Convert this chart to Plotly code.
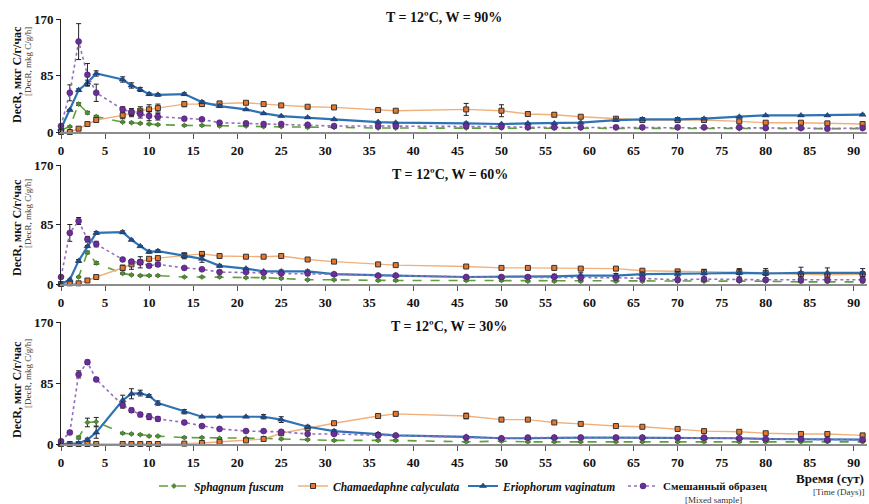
import plotly.graph_objects as go

W, H = 869, 504

days = [0, 1, 2, 3, 4, 7, 8, 9, 10, 11, 14, 16, 18, 21, 23, 25, 28, 31, 36, 38,
        46, 50, 53, 56, 59, 63, 66, 70, 73, 77, 80, 84, 87, 91]

series_names = ["<b><i>Sphagnum fuscum</i></b>", "<b><i>Chamaedaphne calyculata</i></b>",
                "<b><i>Eriophorum vaginatum</i></b>", "<b>Смешанный образец</b>"]
panel_titles = ["T = 12ºC, W = 90%", "T = 12ºC, W = 60%", "T = 12ºC, W = 30%"]
y_ticks = [0, 85, 170]
x_ticks = list(range(0, 95, 5))

# ---- W = 90% ----
sph_90 = [3, 8, 42, 29, 23, 15, 14, 13, 12, 11, 10, 10, 9, 9, 8, 8, 7, 7, 6, 6,
          6, 6, 6, 6, 6, 6, 6, 6, 6, 5, 5, 5, 5, 5]
cha_90 = [0, 0, 5, 12, 18, 25, 29, 32, 34, 36, 42, 42, 43, 44, 42, 40, 38, 37, 33, 32,
          34, 32, 27, 26, 23, 20, 18, 18, 18, 16, 14, 14, 13, 12]
eri_90 = [5, 33, 63, 74, 88, 79, 70, 64, 57, 56, 57, 45, 39, 34, 28, 24, 22, 19, 15, 14,
          13, 12, 13, 13, 14, 18, 19, 19, 20, 23, 25, 25, 25, 26]
mix_90 = [9, 59, 136, 86, 59, 34, 30, 27, 24, 23, 20, 19, 14, 13, 12, 12, 11, 9, 9, 9,
          9, 8, 7, 7, 7, 7, 7, 7, 7, 7, 6, 6, 5, 6]
sph_90_err = [0, 1, 2, 2, 2, 1, 1, 1, 1, 1, 1, 1, 1, 1, 1, 1, 1, 1, 1, 1,
              1, 1, 1, 1, 1, 1, 1, 1, 1, 1, 1, 1, 1, 1]
cha_90_err = [0, 0, 1, 1, 3, 5, 6, 6, 7, 6, 4, 3, 2, 1, 1, 1, 1, 1, 1, 1,
              9, 9, 3, 3, 2, 1, 1, 1, 1, 1, 1, 1, 1, 1]
eri_90_err = [0, 1, 2, 4, 4, 4, 4, 3, 2, 2, 2, 2, 2, 1, 1, 1, 1, 1, 1, 1,
              2, 1, 1, 1, 1, 1, 1, 1, 1, 1, 1, 1, 1, 1]
mix_90_err = [0, 12, 27, 17, 13, 4, 5, 6, 7, 5, 2, 2, 2, 1, 1, 1, 1, 1, 1, 1,
              1, 1, 1, 1, 1, 1, 1, 1, 1, 1, 1, 1, 1, 1]

# ---- W = 60% ----
sph_60 = [0, 1, 10, 45, 30, 15, 13, 12, 12, 12, 10, 10, 10, 9, 9, 8, 6, 6, 5, 5,
          5, 5, 4, 4, 4, 4, 4, 4, 4, 4, 4, 3, 3, 3]
cha_60 = [0, 1, 1, 5, 10, 23, 28, 31, 36, 37, 41, 43, 40, 39, 39, 40, 35, 32, 28, 27,
          25, 23, 23, 23, 22, 22, 19, 18, 17, 17, 16, 14, 13, 14]
eri_60 = [0, 6, 33, 54, 73, 74, 63, 54, 46, 47, 40, 36, 26, 22, 18, 18, 18, 14, 12, 12,
          10, 10, 10, 11, 12, 12, 14, 14, 15, 16, 15, 16, 16, 16]
mix_60 = [10, 73, 90, 64, 57, 35, 32, 31, 26, 28, 23, 21, 17, 17, 16, 15, 15, 14, 12, 12,
          10, 10, 10, 10, 9, 9, 8, 6, 7, 6, 6, 6, 6, 6]
sph_60_err = [0, 1, 1, 2, 2, 1, 1, 1, 1, 1, 1, 1, 1, 1, 1, 1, 1, 1, 1, 1,
              1, 1, 1, 1, 1, 1, 1, 1, 1, 1, 1, 1, 1, 1]
cha_60_err = [0, 0, 0, 1, 1, 4, 7, 8, 2, 2, 2, 3, 2, 2, 1, 2, 2, 1, 2, 1,
              1, 1, 2, 1, 2, 2, 2, 1, 1, 1, 1, 1, 1, 1]
eri_60_err = [0, 1, 2, 1, 2, 2, 1, 1, 2, 2, 4, 5, 2, 1, 1, 2, 2, 1, 1, 1,
              1, 1, 2, 3, 4, 3, 3, 4, 6, 6, 7, 8, 7, 6]
mix_60_err = [0, 12, 5, 4, 4, 2, 2, 3, 2, 3, 1, 1, 1, 1, 1, 1, 1, 1, 1, 1,
              1, 1, 1, 1, 1, 1, 1, 1, 1, 1, 1, 1, 1, 1]

# ---- W = 30% ----
sph_30 = [0, 0, 9, 30, 31, 15, 14, 13, 11, 11, 9, 9, 8, 8, 8, 7, 6, 5, 5, 5,
          3, 4, 3, 3, 3, 3, 3, 3, 3, 3, 3, 3, 3, 3]
cha_30 = [0, 0, 0, 0, 0, 0, 0, 0, 0, 0, 0.5, 1.4, 3, 5, 7, 15, 22, 29, 39, 42,
          39, 34, 34, 30, 28, 25, 24, 21, 18, 17, 15, 14, 14, 12]
eri_30 = [0, 0, 1, 6, 16, 61, 70, 71, 67, 57, 45, 38, 38, 38, 38, 34, 24, 18, 14, 12,
          10, 8, 8, 9, 9, 9, 9, 9, 8, 8, 7, 7, 6, 6]
mix_30 = [4, 16, 97, 114, 90, 54, 47, 41, 38, 35, 30, 25, 21, 18, 18, 17, 14, 14, 12, 12,
          9, 8, 9, 9, 9, 9, 9, 9, 9, 8, 7, 7, 6, 6]
sph_30_err = [0, 0, 2, 6, 6, 1, 1, 1, 1, 1, 1, 1, 1, 1, 1, 1, 1, 1, 1, 1,
              1, 1, 1, 1, 1, 1, 1, 1, 1, 1, 1, 1, 1, 1]
cha_30_err = [0, 0, 0, 0, 0, 0, 0, 0, 0, 0, 0, 0, 1, 1, 2, 2, 2, 2, 3, 2,
              4, 2, 2, 1, 1, 1, 1, 1, 1, 1, 1, 1, 1, 1]
eri_30_err = [0, 0, 1, 2, 8, 7, 7, 4, 2, 3, 3, 1, 1, 1, 3, 4, 2, 2, 2, 1,
              1, 1, 1, 1, 2, 2, 2, 2, 2, 1, 1, 1, 1, 1]
mix_30_err = [1, 2, 5, 3, 2, 4, 3, 3, 4, 3, 2, 2, 2, 1, 1, 1, 1, 2, 1, 1,
              1, 1, 1, 1, 1, 1, 1, 1, 1, 1, 1, 1, 1, 1]

panels = [
    (sph_90, cha_90, eri_90, mix_90, sph_90_err, cha_90_err, eri_90_err, mix_90_err),
    (sph_60, cha_60, eri_60, mix_60, sph_60_err, cha_60_err, eri_60_err, mix_60_err),
    (sph_30, cha_30, eri_30, mix_30, sph_30_err, cha_30_err, eri_30_err, mix_30_err),
]

SERIF = "Liberation Serif"
styles = [
    dict(line=dict(color="#5fa03a", width=1.6, dash="dash"),
         marker=dict(symbol="diamond", size=4, color="#4f8f2f", line=dict(color="#2f5f1a", width=0.5))),
    dict(line=dict(color="#f0b07c", width=1.4),
         marker=dict(symbol="square", size=5, color="#e8762b", line=dict(color="#333333", width=1))),
    dict(line=dict(color="#2e74b5", width=2.2),
         marker=dict(symbol="triangle-up", size=6, color="#1f4e8c", line=dict(color="#1a2f5a", width=0.5))),
    dict(line=dict(color="#9370bd", width=1.6, dash="dot"),
         marker=dict(symbol="circle", size=6, color="#6a2d9a", line=dict(color="#3a1a5a", width=0.5))),
]
legend_ids = ["legend", "legend2", "legend3", "legend4"]


def py(p):
    return 1 - p / H


def px(p):
    return p / W


# pixel rows for panels: (position of 170, position of 0)
rows = [(19, 132), (165, 284), (322, 444)]

fig = go.Figure()
for pi, data in enumerate(panels):
    vals = data[:4]
    errs = data[4:]
    axn = "" if pi == 0 else str(pi + 1)
    for si in range(4):
        fig.add_trace(go.Scatter(
            x=days, y=vals[si], mode="lines+markers",
            name=series_names[si],
            line=styles[si]["line"], marker=styles[si]["marker"],
            error_y=dict(type="data", array=errs[si], visible=True, color="#222222",
                         thickness=1, width=2.5),
            xaxis="x" + axn, yaxis="y" + axn, cliponaxis=False,
            showlegend=(pi == 0), legend=legend_ids[si],
        ))

layout = dict(
    width=W, height=H, margin=dict(l=0, r=0, t=0, b=0, autoexpand=False),
    plot_bgcolor="white", paper_bgcolor="white",
    font=dict(family=SERIF, color="#111111"),
)
x0, x1 = 61, 867
for pi, (ytop, ybot) in enumerate(rows):
    axn = "" if pi == 0 else str(pi + 1)
    layout["xaxis" + axn] = dict(
        domain=[px(x0), px(x1)], range=[0, 91.5], anchor="y" + axn,
        tickvals=x_ticks, ticks="outside", ticklen=5, tickcolor="#555555",
        showline=True, linecolor="#8c8c8c", linewidth=2, showgrid=False, zeroline=False,
        tickfont=dict(family=SERIF, size=13, weight="bold", color="#111111"),
    )
    layout["yaxis" + axn] = dict(
        domain=[py(ybot), py(ytop)], range=[0, 170], anchor="x" + axn,
        tickvals=y_ticks, ticks="outside", ticklen=4, tickcolor="#222222",
        showline=True, linecolor="#222222", linewidth=1, showgrid=False, zeroline=False,
        tickfont=dict(family=SERIF, size=13, weight="bold", color="#111111"),
    )

ann = []
title_pos = [(444, 18), (450, 174), (449, 326)]
for t, (tx, ty) in zip(panel_titles, title_pos):
    ann.append(dict(text="<b>" + t + "</b>", x=px(tx), y=py(ty), xref="paper", yref="paper",
                    showarrow=False, font=dict(family=SERIF, size=14, color="#111111"),
                    xanchor="center", yanchor="middle"))
ylab_pos = [(75, 62), (228, 214), (390, 374)]
for (cm, cb) in ylab_pos:
    ann.append(dict(text="<b>DecR, мкг С/г/час</b>", x=px(17), y=py(cm), xref="paper", yref="paper",
                    showarrow=False, textangle=-90, font=dict(family=SERIF, size=12, color="#111111"),
                    xanchor="center", yanchor="middle"))
    ann.append(dict(text="[DecR, mkg C/g/h]", x=px(28), y=py(cb), xref="paper", yref="paper",
                    showarrow=False, textangle=-90, font=dict(family=SERIF, size=9, color="#333333"),
                    xanchor="center", yanchor="middle"))
ann.append(dict(text="<b>Время (сут)</b>", x=px(866), y=py(478), xref="paper", yref="paper",
                showarrow=False, font=dict(family=SERIF, size=13, color="#111111"),
                xanchor="right", yanchor="middle"))
ann.append(dict(text="[Time (Days)]", x=px(838), y=py(492), xref="paper", yref="paper",
                showarrow=False, font=dict(family=SERIF, size=9, color="#333333"),
                xanchor="center", yanchor="middle"))
ann.append(dict(text="[Mixed sample]", x=px(713), y=py(500), xref="paper", yref="paper",
                showarrow=False, font=dict(family=SERIF, size=9, color="#333333"),
                xanchor="center", yanchor="middle"))
layout["annotations"] = ann

leg_x = [154, 293, 463, 623]
leg_fs = [11.5, 11.5, 11.5, 11]
for lid, lx, fs in zip(legend_ids, leg_x, leg_fs):
    layout[lid] = dict(x=px(lx), y=py(486), xanchor="left", yanchor="middle",
                       orientation="h", bgcolor="rgba(0,0,0,0)", borderwidth=0,
                       font=dict(family=SERIF, size=fs, color="#111111"),
                       itemclick=False, itemdoubleclick=False)

fig.update_layout(**layout)
fig.write_html("out.html", config={"displayModeBar": False},
               post_script="document.body.style.margin='0px';document.body.style.overflow='hidden';")
